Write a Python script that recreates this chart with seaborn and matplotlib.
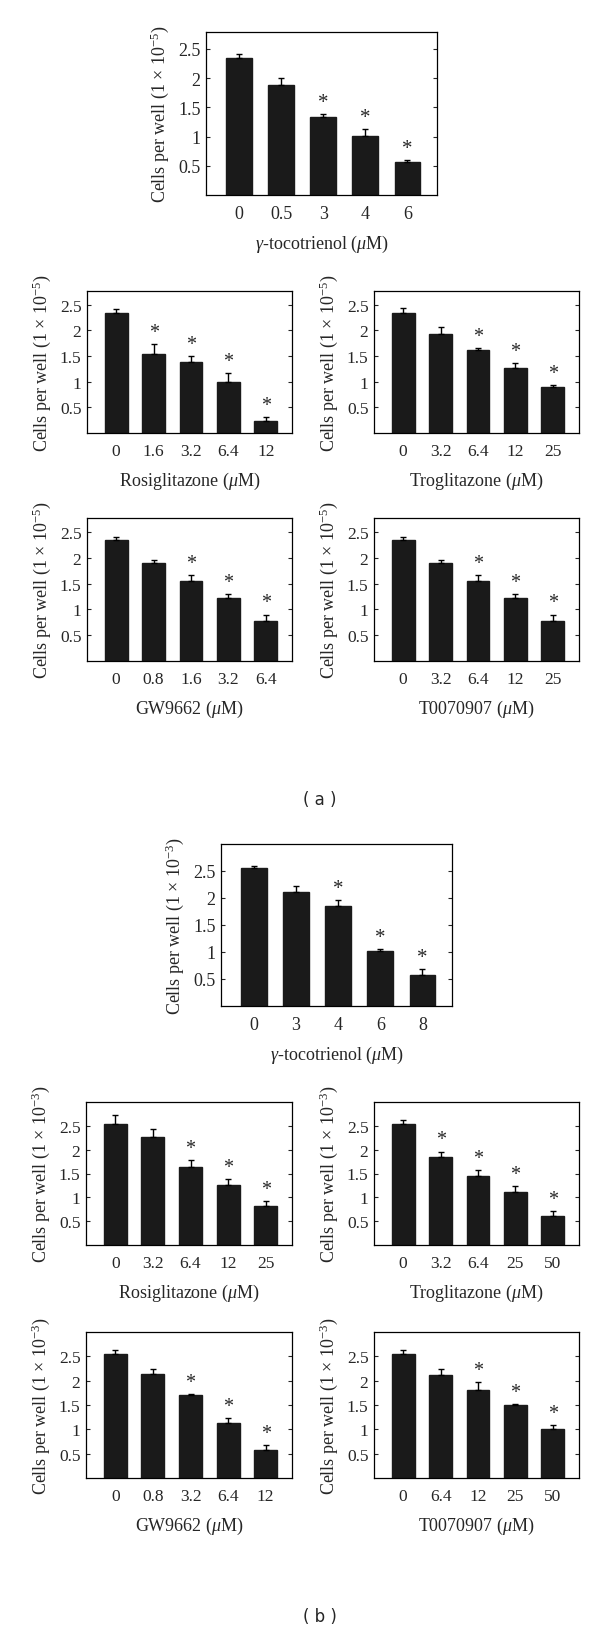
"""
Cell counts after treatment with gamma-tocotrienol and PPAR-gamma ligands.
Two groups of five bar panels, (a) and (b), each with one-sided SEM bars.
"""
import matplotlib
matplotlib.use("Agg")
import matplotlib.pyplot as plt
import seaborn as sns
import pandas as pd

# ---- (a) -------------------------------------------------------------
a_gt_dose = ["0", "0.5", "3", "4", "6"]
a_gt_mean = [2.34, 1.89, 1.34, 1.01, 0.56]
a_gt_err = [0.07, 0.12, 0.04, 0.12, 0.04]
a_gt_sig = [False, False, True, True, True]

a_rosi_dose = ["0", "1.6", "3.2", "6.4", "12"]
a_rosi_mean = [2.34, 1.55, 1.38, 1.00, 0.24]
a_rosi_err = [0.07, 0.18, 0.12, 0.17, 0.07]
a_rosi_sig = [False, True, True, True, True]

a_trog_dose = ["0", "3.2", "6.4", "12", "25"]
a_trog_mean = [2.34, 1.94, 1.62, 1.26, 0.89]
a_trog_err = [0.09, 0.12, 0.04, 0.11, 0.05]
a_trog_sig = [False, False, True, True, True]

a_gw_dose = ["0", "0.8", "1.6", "3.2", "6.4"]
a_gw_mean = [2.34, 1.90, 1.55, 1.23, 0.78]
a_gw_err = [0.06, 0.06, 0.11, 0.06, 0.12]
a_gw_sig = [False, False, True, True, True]

a_t007_dose = ["0", "3.2", "6.4", "12", "25"]
a_t007_mean = [2.34, 1.90, 1.55, 1.23, 0.78]
a_t007_err = [0.06, 0.06, 0.11, 0.06, 0.12]
a_t007_sig = [False, False, True, True, True]

# ---- (b) -------------------------------------------------------------
b_gt_dose = ["0", "3", "4", "6", "8"]
b_gt_mean = [2.55, 2.12, 1.86, 1.01, 0.57]
b_gt_err = [0.05, 0.11, 0.10, 0.04, 0.12]
b_gt_sig = [False, False, True, True, True]

b_rosi_dose = ["0", "3.2", "6.4", "12", "25"]
b_rosi_mean = [2.54, 2.27, 1.64, 1.25, 0.82]
b_rosi_err = [0.19, 0.16, 0.15, 0.13, 0.10]
b_rosi_sig = [False, False, True, True, True]

b_trog_dose = ["0", "3.2", "6.4", "25", "50"]
b_trog_mean = [2.54, 1.85, 1.45, 1.11, 0.60]
b_trog_err = [0.08, 0.11, 0.12, 0.12, 0.11]
b_trog_sig = [False, True, True, True, True]

b_gw_dose = ["0", "0.8", "3.2", "6.4", "12"]
b_gw_mean = [2.55, 2.13, 1.70, 1.13, 0.57]
b_gw_err = [0.07, 0.12, 0.02, 0.11, 0.11]
b_gw_sig = [False, False, True, True, True]

b_t007_dose = ["0", "6.4", "12", "25", "50"]
b_t007_mean = [2.55, 2.11, 1.81, 1.51, 1.01]
b_t007_err = [0.07, 0.14, 0.16, 0.01, 0.08]
b_t007_sig = [False, False, True, True, True]

y_ticks = [0.5, 1, 1.5, 2, 2.5]
y_tick_labels = ["0.5", "1", "1.5", "2", "2.5"]

sns.set_style("ticks")
plt.rcParams["font.family"] = ["Liberation Serif", "DejaVu Serif"]
plt.rcParams["mathtext.fontset"] = "custom"
plt.rcParams["mathtext.rm"] = "Liberation Serif"
plt.rcParams["mathtext.it"] = "Liberation Serif:italic"

W, H = 600, 1631
BAR = "#1a1a1a"

fig = plt.figure(figsize=(W / 100, H / 100), dpi=100)


def axes_px(left, top, right, bottom):
    return fig.add_axes([left / W, 1 - bottom / H, (right - left) / W, (bottom - top) / H])


def panel(box, dose, mean, err, sig, drug, exponent, ymax, fs):
    ax = axes_px(*box)
    df = pd.DataFrame({"dose": dose, "cells": mean})
    sns.barplot(data=df, x="dose", y="cells", order=dose, color=BAR,
                saturation=1, width=0.61, errorbar=None, ax=ax)
    for p in ax.patches:
        p.set_edgecolor(BAR)
    xs = list(range(len(dose)))
    # one-sided error bars (upper only)
    ax.errorbar(xs, mean, yerr=[[0] * len(err), err], fmt="none",
                ecolor="black", elinewidth=1.0, capsize=2.5, capthick=1.0)
    for x, m, e, s in zip(xs, mean, err, sig):
        if s:
            ax.annotate("*", (x, m + e), xytext=(0, 1.5), textcoords="offset points",
                        ha="center", va="bottom", fontsize=fs + 2)
    ax.set_xlim(-0.78, 4.70)
    ax.set_ylim(0, ymax)
    ax.set_yticks(y_ticks)
    ax.set_yticklabels(y_tick_labels)
    ax.tick_params(axis="y", direction="in", length=3, width=0.8,
                   right=True, labelsize=fs, pad=4)
    ax.tick_params(axis="x", length=0, labelsize=fs, pad=7)
    for sp in ax.spines.values():
        sp.set_visible(True)
        sp.set_color("black")
        sp.set_linewidth(0.9)
    ax.set_xlabel(drug + r" ($\mu$M)", fontsize=13, labelpad=8)
    ax.set_ylabel("Cells per well (1 \u00d7 10$^{-%d}$)" % exponent,
                  fontsize=13, labelpad=5)
    return ax


# (a)
panel((206, 33, 437, 196), a_gt_dose, a_gt_mean, a_gt_err, a_gt_sig,
      r"$\gamma$-tocotrienol", 5, 2.79, 13)
panel((87, 292, 292, 434), a_rosi_dose, a_rosi_mean, a_rosi_err, a_rosi_sig,
      "Rosiglitazone", 5, 2.77, 12.5)
panel((374, 292, 579, 434), a_trog_dose, a_trog_mean, a_trog_err, a_trog_sig,
      "Troglitazone", 5, 2.77, 12.5)
panel((87, 519, 292, 662), a_gw_dose, a_gw_mean, a_gw_err, a_gw_sig,
      "GW9662", 5, 2.77, 12.5)
panel((374, 519, 579, 662), a_t007_dose, a_t007_mean, a_t007_err, a_t007_sig,
      "T0070907", 5, 2.77, 12.5)

# (b)
panel((221, 845, 452, 1007), b_gt_dose, b_gt_mean, b_gt_err, b_gt_sig,
      r"$\gamma$-tocotrienol", 3, 3.0, 13)
panel((86, 1103, 292, 1246), b_rosi_dose, b_rosi_mean, b_rosi_err, b_rosi_sig,
      "Rosiglitazone", 3, 3.0, 12.5)
panel((374, 1103, 579, 1246), b_trog_dose, b_trog_mean, b_trog_err, b_trog_sig,
      "Troglitazone", 3, 3.0, 12.5)
panel((86, 1333, 292, 1479), b_gw_dose, b_gw_mean, b_gw_err, b_gw_sig,
      "GW9662", 3, 3.0, 12.5)
panel((374, 1333, 579, 1479), b_t007_dose, b_t007_mean, b_t007_err, b_t007_sig,
      "T0070907", 3, 3.0, 12.5)

fig.text(320 / W, 1 - 800 / H, "( a )", ha="center", va="center",
         fontsize=12, family=["DejaVu Sans"])
fig.text(320 / W, 1 - 1617 / H, "( b )", ha="center", va="center",
         fontsize=12, family=["DejaVu Sans"])

fig.savefig("out.png", dpi=100, facecolor="white")
plt.close(fig)
